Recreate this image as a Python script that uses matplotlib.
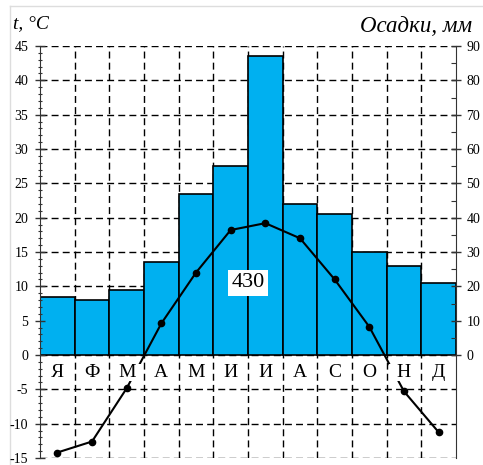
import matplotlib
matplotlib.use("Agg")
import matplotlib.pyplot as plt
import numpy as np
from matplotlib.lines import Line2D
from matplotlib.patches import Rectangle

months = ["Я", "Ф", "М", "А", "М", "И", "И", "А", "С", "О", "Н", "Д"]
precip_mm = [17, 16, 19, 27, 47, 55, 87, 44, 41, 30, 26, 21]
temp_c = [-14.2, -12.6, -4.85, 4.6, 12.0, 18.2, 19.2, 17.0, 11.0, 4.1, -5.3, -11.25]

plt.rcParams["font.family"] = ["Liberation Serif", "DejaVu Serif"]
plt.rcParams["axes.unicode_minus"] = False

BAR_COLOR = "#00B0F0"
x = np.arange(len(months))

fig = plt.figure(figsize=(4.83, 4.65), dpi=100)
ax = fig.add_axes([40 / 483, 1 - 458 / 465, 416 / 483, 412 / 465])
ax2 = ax.twinx()
ax.set_zorder(2)
ax2.set_zorder(1)
ax.patch.set_visible(False)
ax2.patch.set_facecolor("white")

ax.set_xlim(-0.5, len(months) - 0.5)
ax.set_ylim(-15, 45)
ax2.set_ylim(-30, 90)

# grid on the lower axes so bars cover it
dash = (0, (5, 3))
ax2.hlines(np.arange(-30, 91, 10), -0.5, len(months) - 0.5, colors="black",
           linestyles=dash, linewidth=1.0, zorder=0.5)
ax2.vlines(np.arange(0.5, len(months) - 1, 1), -30, 90, colors="black",
           linestyles=dash, linewidth=1.0, zorder=0.5)

# precipitation bars
ax2.bar(x, precip_mm, width=1.0, color=BAR_COLOR, edgecolor="black",
        linewidth=1.2, zorder=1)

# temperature line
ax.plot(x, temp_c, color="black", linewidth=1.5, marker="o", markersize=4.5,
        zorder=2)

# white strip behind month letters (gaps keep grid lines visible)
for xi, m in zip(x, months):
    ax.add_patch(Rectangle((xi - 0.42, -3.8), 0.84, 2.55, facecolor="white",
                           edgecolor="none", zorder=3))
    ax.text(xi, -2.5, m, ha="center", va="center", fontsize=14, zorder=4)

ax.text(5.5, 10.5, str(sum(precip_mm)), ha="center", va="center", fontsize=16,
        zorder=5, bbox=dict(facecolor="white", edgecolor="none", pad=2.5))

# axes styling
for s in ["top", "bottom", "right"]:
    ax.spines[s].set_visible(False)
for s in ["top", "bottom", "left"]:
    ax2.spines[s].set_visible(False)
ax.spines["left"].set_color("#333333")
ax2.spines["right"].set_color("#333333")

ax.set_xticks([])
ax.set_yticks(np.arange(-15, 46, 5))
ax.set_yticks(np.arange(-15, 46, 1), minor=True)
ax.tick_params(axis="y", which="major", direction="inout", length=7,
               width=1, labelsize=10, pad=5, color="#333333")
ax.tick_params(axis="y", which="minor", direction="inout", length=3.5,
               width=0.8, color="#333333")

ax2.set_yticks(np.arange(0, 91, 10))
ax2.set_yticks(np.arange(5, 90, 10), minor=True)
ax2.tick_params(axis="y", which="major", direction="inout", length=7,
                width=1, labelsize=10, pad=4, color="#333333")
ax2.tick_params(axis="y", which="minor", direction="in", length=3.5,
                width=0.8, color="#333333")

fig.text(13 / 483, 1 - 28 / 465, "t, °C", fontsize=14, style="italic",
         ha="left", va="baseline")
fig.text(472 / 483, 1 - 32 / 465, "Осадки, мм", fontsize=16.5, style="italic",
         ha="right", va="baseline")

# faint frame around the picture
fig.add_artist(Line2D([10 / 483, 10 / 483], [0, 1 - 6 / 465],
                      transform=fig.transFigure, color="#dddddd", linewidth=1))
fig.add_artist(Line2D([10 / 483, 1], [1 - 6 / 465, 1 - 6 / 465],
                      transform=fig.transFigure, color="#dddddd", linewidth=1))

fig.savefig("out.png", dpi=100)
